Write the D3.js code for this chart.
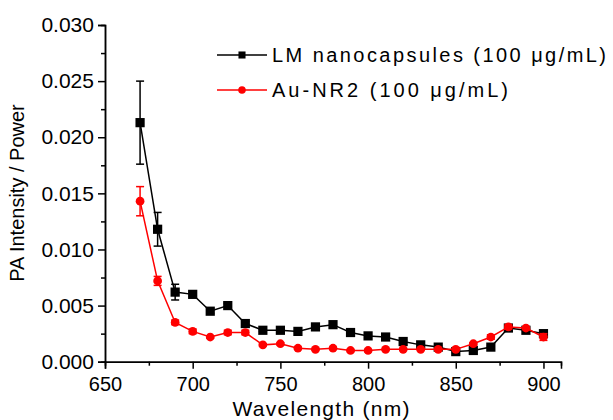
<!DOCTYPE html>
<html>
<head>
<meta charset="utf-8">
<script src="https://cdn.jsdelivr.net/npm/d3@7"></script>
<style>
  html, body { margin: 0; padding: 0; background: #fff; }
  svg { display: block; font-family: "Liberation Sans", Arial, sans-serif; }
</style>
</head>
<body>
<svg id="chart" width="613" height="420"></svg>
<script>
// Wavelengths (nm)
const wavelengths = [670, 680, 690, 700, 710, 720, 730, 740, 750, 760, 770, 780, 790, 800, 810, 820, 830, 840, 850, 860, 870, 880, 890, 900];

// PA intensity / power
const lmValues = [0.0213, 0.0118, 0.0062, 0.0060, 0.0045, 0.0050, 0.0034, 0.0028, 0.0028, 0.0027, 0.0031, 0.0033, 0.0026, 0.0023, 0.0022, 0.0018, 0.0015, 0.0013, 0.0009, 0.0010, 0.0013, 0.0030, 0.0028, 0.0025];
const lmErrors = [0.0037, 0.0015, 0.0007, 0.0002, 0.0002, 0.0002, 0.0002, 0.0001, 0.0001, 0.0001, 0.0001, 0.0001, 0.0001, 0.0001, 0.0001, 0.0001, 0.0001, 0.0001, 0.0001, 0.0001, 0.0001, 0.0002, 0.0001, 0.0001];

const auValues = [0.0143, 0.0072, 0.0035, 0.0027, 0.0022, 0.0026, 0.0026, 0.0015, 0.0016, 0.0012, 0.0011, 0.0012, 0.0010, 0.0010, 0.0011, 0.0011, 0.0011, 0.0011, 0.0011, 0.0016, 0.0022, 0.0031, 0.0030, 0.0022];
const auErrors = [0.0013, 0.0004, 0.0002, 0.0002, 0.0001, 0.0002, 0.0002, 0.0001, 0.0001, 0.0001, 0.0001, 0.0001, 0.0001, 0.0001, 0.0001, 0.0001, 0.0001, 0.0001, 0.0001, 0.0001, 0.0002, 0.0002, 0.0001, 0.0003];

const xTicks = [650, 700, 750, 800, 850, 900];
const yTicks = [0.000, 0.005, 0.010, 0.015, 0.020, 0.025, 0.030];

const seriesNames = ["LM nanocapsules (100 \u03BCg/mL)", "Au-NR2 (100 \u03BCg/mL)"];
const seriesColors = ["#000000", "#ff0000"];

const svg = d3.select("#chart");

const x = d3.scaleLinear().domain([650, 910]).range([105, 561]);
const y = d3.scaleLinear().domain([0, 0.030]).range([361.7, 25]);

// Axes with minor ticks
const xMinor = d3.range(675, 910, 50);
const yMinor = d3.range(0.0025, 0.030, 0.005);

const gx = svg.append("g").attr("transform", `translate(0,${y(0)})`);
gx.call(d3.axisBottom(x).tickValues(xMinor).tickSize(4).tickFormat(""));
gx.call(g => g.append("g").call(d3.axisBottom(x).tickValues(xTicks).tickSize(7).tickFormat(d3.format("d"))));
gx.selectAll("path.domain").attr("stroke", "#000").attr("stroke-width", 1.5);
gx.selectAll("line").attr("stroke", "#000").attr("stroke-width", 1.5);
gx.selectAll("text").attr("fill", "#000").attr("font-size", 20).attr("dy", "0.95em");

const gy = svg.append("g").attr("transform", `translate(${x(650)},0)`);
gy.call(d3.axisLeft(y).tickValues(yMinor).tickSize(4).tickFormat(""));
gy.call(g => g.append("g").call(d3.axisLeft(y).tickValues(yTicks).tickSize(7).tickFormat(d3.format(".3f"))));
gy.selectAll("path.domain").attr("stroke", "#000").attr("stroke-width", 1.5);
gy.selectAll("line").attr("stroke", "#000").attr("stroke-width", 1.5);
gy.selectAll("text").attr("fill", "#000").attr("font-size", 21).attr("dx", "-0.05em");

// Axis titles
svg.append("text")
  .attr("x", 321).attr("y", 416)
  .attr("text-anchor", "middle")
  .attr("font-size", 21)
  .attr("textLength", 177)
  .text("Wavelength (nm)");

svg.append("text")
  .attr("transform", `translate(24,193) rotate(-90)`)
  .attr("text-anchor", "middle")
  .attr("font-size", 20)
  .text("PA Intensity / Power");

// Series
const series = [
  { values: lmValues, errors: lmErrors, color: seriesColors[0], shape: "square" },
  { values: auValues, errors: auErrors, color: seriesColors[1], shape: "circle" }
];

const line = d3.line().x(d => x(d.w)).y(d => y(d.v));

series.forEach(s => {
  const pts = wavelengths.map((w, i) => ({ w, v: s.values[i], e: s.errors[i] }));
  const g = svg.append("g");

  g.append("path")
    .datum(pts)
    .attr("d", line)
    .attr("fill", "none")
    .attr("stroke", s.color)
    .attr("stroke-width", 1.5);

  const eb = g.selectAll("g.err").data(pts).join("g").attr("class", "err")
    .attr("stroke", s.color).attr("stroke-width", 1.5);
  eb.append("line")
    .attr("x1", d => x(d.w)).attr("x2", d => x(d.w))
    .attr("y1", d => y(d.v + d.e)).attr("y2", d => y(d.v - d.e));
  eb.append("line")
    .attr("x1", d => x(d.w) - 4).attr("x2", d => x(d.w) + 4)
    .attr("y1", d => y(d.v + d.e)).attr("y2", d => y(d.v + d.e));
  eb.append("line")
    .attr("x1", d => x(d.w) - 4).attr("x2", d => x(d.w) + 4)
    .attr("y1", d => y(d.v - d.e)).attr("y2", d => y(d.v - d.e));

  const sym = d3.symbol().type(s.shape === "square" ? d3.symbolSquare : d3.symbolCircle)
    .size(s.shape === "square" ? 85 : 60);
  g.selectAll("path.mk").data(pts).join("path").attr("class", "mk")
    .attr("transform", d => `translate(${x(d.w)},${y(d.v)})`)
    .attr("d", sym)
    .attr("fill", s.color);
});

// Legend
const legend = svg.append("g");
const legendRows = [
  { y: 55, color: seriesColors[0], shape: d3.symbolSquare, size: 50, name: seriesNames[0], len: 334 },
  { y: 90, color: seriesColors[1], shape: d3.symbolCircle, size: 45, name: seriesNames[1], len: 236 }
];
legendRows.forEach(r => {
  legend.append("line")
    .attr("x1", 217).attr("x2", 267)
    .attr("y1", r.y).attr("y2", r.y)
    .attr("stroke", r.color).attr("stroke-width", 1.5);
  legend.append("path")
    .attr("transform", `translate(242,${r.y})`)
    .attr("d", d3.symbol().type(r.shape).size(r.size))
    .attr("fill", r.color);
  legend.append("text")
    .attr("x", 272).attr("y", r.y + 7)
    .attr("font-size", 20)
    .attr("textLength", r.len)
    .attr("fill", "#000")
    .text(r.name);
});
</script>
</body>
</html>
